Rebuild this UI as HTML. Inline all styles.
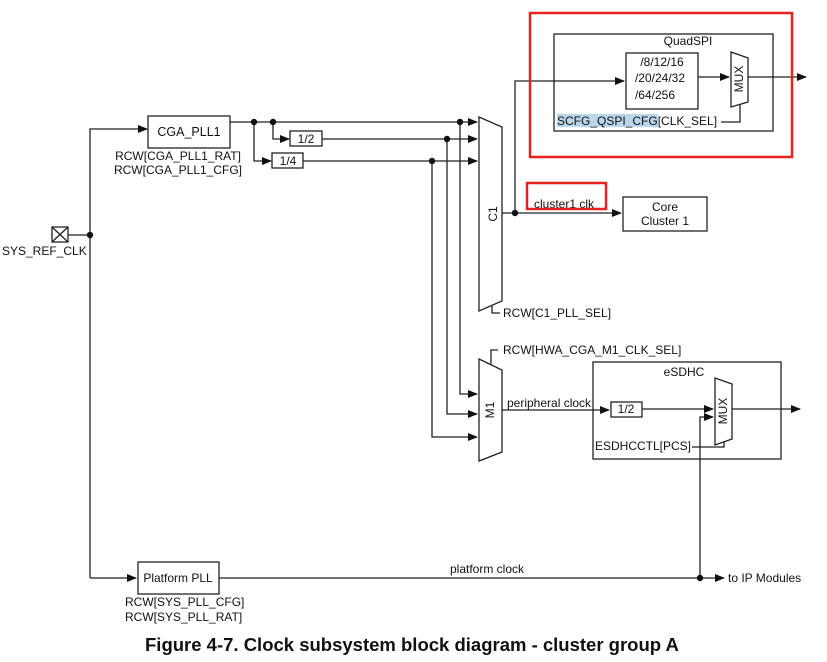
<!DOCTYPE html>
<html><head><meta charset="utf-8"><style>
html,body{margin:0;padding:0;background:#fff;}
svg{display:block;font-family:"Liberation Sans",Arial,sans-serif;}
</style></head><body>
<svg width="827" height="662" viewBox="0 0 827 662" xmlns="http://www.w3.org/2000/svg">
<defs>
<marker id="a" markerWidth="10" markerHeight="8" refX="9" refY="4" orient="auto" markerUnits="userSpaceOnUse">
<path d="M0,0 L10,4 L0,8 Z" fill="#111"/></marker>
</defs>
<g stroke="#222" stroke-width="1.3" fill="none">
<rect x="52" y="227" width="16" height="15" fill="#fff"/>
<path d="M52,227 L68,242 M68,227 L52,242"/>
<path d="M68,235 H90"/>
<path d="M90,578 V129 H147" marker-end="url(#a)"/>
<rect x="148" y="116" width="82" height="32"/>
<path d="M230,122 H477" marker-end="url(#a)"/>
<path d="M273,122 V139 H289" marker-end="url(#a)"/>
<rect x="290" y="131" width="32" height="15"/>
<path d="M322,139 H477" marker-end="url(#a)"/>
<path d="M254,122 V161 H271" marker-end="url(#a)"/>
<rect x="272" y="153" width="31" height="15"/>
<path d="M303,161 H477" marker-end="url(#a)"/>
<path d="M479,117 L502,127 L502,301 L479,311 Z"/>
<path d="M492,306 V313 H500"/>
<path d="M502,213 H621" marker-end="url(#a)"/>
<path d="M515,213 V81 H624" marker-end="url(#a)"/>
<rect x="623" y="197" width="84" height="34"/>
<path d="M460,122 V394 H477" marker-end="url(#a)"/>
<path d="M447,139 V414 H477" marker-end="url(#a)"/>
<path d="M432,161 V437 H477" marker-end="url(#a)"/>
<path d="M479,359 L502,370 L502,452 L479,461 Z"/>
<path d="M491,364 V350 H498"/>
<path d="M502,410 H609" marker-end="url(#a)"/>
<rect x="593" y="362" width="188" height="97"/>
<rect x="611" y="402" width="31" height="15"/>
<path d="M642,409 H713" marker-end="url(#a)"/>
<path d="M715,378 L732,384 L732,439 L715,445 Z"/>
<path d="M732,409 H800" marker-end="url(#a)"/>
<path d="M700,578 V417 H713" marker-end="url(#a)"/>
<path d="M692,447 H724 V442"/>
<rect x="554" y="34" width="219" height="97"/>
<rect x="626" y="53" width="72" height="56"/>
<path d="M698,77 H729" marker-end="url(#a)"/>
<path d="M731,52 L748,58 L748,102 L731,107 Z"/>
<path d="M748,77 H806" marker-end="url(#a)"/>
<path d="M721,122 H740 V105"/>
<path d="M90,578 H136" marker-end="url(#a)"/>
<rect x="138" y="562" width="81" height="32"/>
<path d="M219,578 H724" marker-end="url(#a)"/>
</g>
<g fill="#111">
<circle cx="90" cy="235" r="3.2"/>
<circle cx="254" cy="122" r="3.2"/>
<circle cx="273" cy="122" r="3.2"/>
<circle cx="460" cy="122" r="3.2"/>
<circle cx="447" cy="139" r="3.2"/>
<circle cx="432" cy="161" r="3.2"/>
<circle cx="515" cy="213" r="3.2"/>
<circle cx="700" cy="578" r="3.2"/>
</g>
<rect x="557" y="114" width="101" height="13" fill="#b9d6ea"/>
<g fill="#111" font-size="12">
<text x="189" y="136" text-anchor="middle" font-size="12.5">CGA_PLL1</text>
<text x="178" y="160" text-anchor="middle">RCW[CGA_PLL1_RAT]</text>
<text x="178" y="174" text-anchor="middle">RCW[CGA_PLL1_CFG]</text>
<text x="2" y="255">SYS_REF_CLK</text>
<text x="306" y="143" text-anchor="middle">1/2</text>
<text x="288" y="165" text-anchor="middle">1/4</text>
<text x="494" y="214" text-anchor="middle" transform="rotate(-90 494 214)" dominant-baseline="middle">C1</text>
<text x="503" y="317">RCW[C1_PLL_SEL]</text>
<text x="534" y="208">cluster1 clk</text>
<text x="665" y="211" text-anchor="middle">Core</text>
<text x="665" y="225" text-anchor="middle">Cluster 1</text>
<text x="688" y="45" text-anchor="middle">QuadSPI</text>
<text x="662" y="66" text-anchor="middle">/8/12/16</text>
<text x="660" y="82" text-anchor="middle">/20/24/32</text>
<text x="655" y="99" text-anchor="middle">/64/256</text>
<text x="740" y="79" text-anchor="middle" transform="rotate(-90 740 79)" dominant-baseline="middle">MUX</text>
<text x="557" y="125">SCFG_QSPI_CFG[CLK_SEL]</text>
<text x="503" y="354">RCW[HWA_CGA_M1_CLK_SEL]</text>
<text x="491" y="410" text-anchor="middle" transform="rotate(-90 491 410)" dominant-baseline="middle">M1</text>
<text x="507" y="407">peripheral clock</text>
<text x="684" y="376" text-anchor="middle">eSDHC</text>
<text x="626" y="413" text-anchor="middle">1/2</text>
<text x="724" y="411" text-anchor="middle" transform="rotate(-90 724 411)" dominant-baseline="middle">MUX</text>
<text x="595" y="450">ESDHCCTL[PCS]</text>
<text x="450" y="573">platform clock</text>
<text x="728" y="582">to IP Modules</text>
<text x="178" y="582" text-anchor="middle">Platform PLL</text>
<text x="125" y="606">RCW[SYS_PLL_CFG]</text>
<text x="125" y="621">RCW[SYS_PLL_RAT]</text>
</g>
<text x="145" y="651" font-size="18.5" font-weight="bold" fill="#111">Figure 4-7. Clock subsystem block diagram - cluster group A</text>
<rect x="530" y="13" width="262" height="144" fill="none" stroke="#e8231e" stroke-width="2.5"/>
<rect x="527" y="183" width="79" height="26" fill="none" stroke="#e8231e" stroke-width="2.5"/>
</svg>
</body></html>
